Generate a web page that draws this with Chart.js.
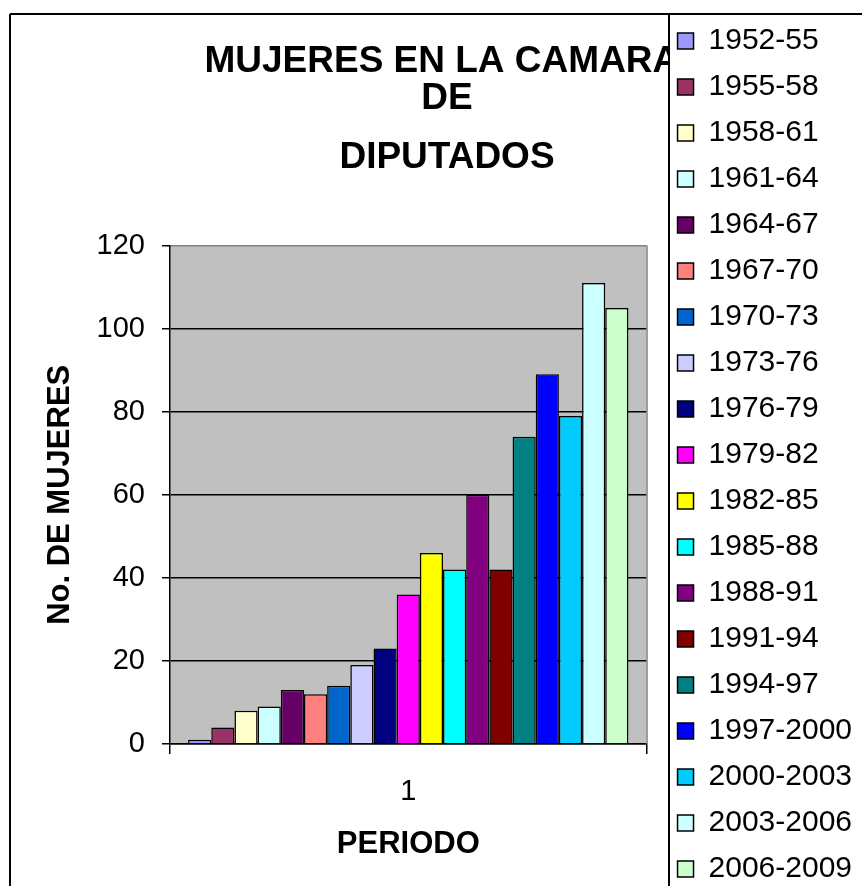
<!DOCTYPE html>
<html>
<head>
<meta charset="utf-8">
<script src="https://cdn.jsdelivr.net/npm/chart.js@4.4.1/dist/chart.umd.min.js"></script>
<style>
html,body{margin:0;padding:0;background:#fff;}
#wrap{width:862px;height:886px;position:relative;}
</style>
</head>
<body>
<div id="wrap"><canvas id="c" width="862" height="886"></canvas></div>
<script>
// ---- data ----
const categorias = ['1'];
const periodos = ['1952-55','1955-58','1958-61','1961-64','1964-67','1967-70','1970-73','1973-76','1976-79','1979-82','1982-85','1985-88','1988-91','1991-94','1994-97','1997-2000','2000-2003','2003-2006','2006-2009'];
const mujeres = [1, 4, 8, 9, 13, 12, 14, 19, 23, 36, 46, 42, 60, 42, 74, 89, 79, 111, 105];
const colores = ['#9999FF','#993366','#FFFFCC','#CCFFFF','#660066','#FF8080','#0066CC','#CCCCFF','#000080','#FF00FF','#FFFF00','#00FFFF','#800080','#800000','#008080','#0000FF','#00CCFF','#CCFFFF','#CCFFCC'];
const tituloLineas = ['MUJERES EN LA CAMARA ', 'DE'];
const subtitulo = 'DIPUTADOS';
const tituloY = 'No. DE MUJERES';
const tituloX = 'PERIODO';
const yMin = 0, yMax = 120, yPaso = 20;

const FONT = "'Liberation Sans', Arial, Helvetica, sans-serif";

const decoPlugin = {
  id: 'deco',
  beforeDraw(chart) {
    const {ctx, chartArea: a} = chart;
    ctx.save();
    ctx.fillStyle = '#C0C0C0';
    ctx.fillRect(a.left, a.top, a.right - a.left, a.bottom - a.top);
    ctx.restore();
  },
  beforeDatasetsDraw(chart) {
    const {ctx, chartArea: a} = chart;
    ctx.save();
    ctx.strokeStyle = '#808080';
    ctx.lineWidth = 1.5;
    ctx.beginPath();
    ctx.moveTo(Math.round(a.right), a.top);
    ctx.lineTo(Math.round(a.right), a.bottom);
    ctx.stroke();
    ctx.restore();
  },
  afterDraw(chart) {
    const {ctx, width, height} = chart;
    const lx = Math.round(chart.legend.left) + 7;
    ctx.save();
    ctx.fillStyle = '#fff';
    ctx.fillRect(lx, 14, width - lx, height - 14);
    ctx.strokeStyle = '#000';
    ctx.lineWidth = 2;
    ctx.beginPath();
    ctx.moveTo(10, 14); ctx.lineTo(width, 14);
    ctx.moveTo(10, 14); ctx.lineTo(10, height);
    ctx.moveTo(lx, 14); ctx.lineTo(lx, height);
    ctx.stroke();
    ctx.restore();
    chart.legend.draw();
  }
};

Chart.defaults.color = '#000';
Chart.defaults.font.family = FONT;

new Chart(document.getElementById('c'), {
  type: 'bar',
  data: {
    labels: categorias,
    datasets: periodos.map((p, i) => ({
      label: p,
      data: [mujeres[i]],
      backgroundColor: colores[i],
      borderColor: '#000',
      borderWidth: 1.5,
      yAxisID: 'y'
    }))
  },
  options: {
    responsive: false,
    animation: false,
    devicePixelRatio: 1,
    layout: { padding: { top: 10, left: 32, right: 0, bottom: -20 } },
    datasets: { bar: { categoryPercentage: 0.924, barPercentage: 1 } },
    plugins: {
      legend: {
        position: 'right',
        align: 'start',
        labels: { boxWidth: 16, boxHeight: 16, padding: 16, color: '#000', font: { family: FONT, size: 30 } }
      },
      title: {
        display: true,
        text: tituloLineas,
        color: '#000',
        font: { family: FONT, size: 37, weight: 'bold', lineHeight: 1.01 },
        padding: { top: 33, bottom: 0 }
      },
      subtitle: {
        display: true,
        text: subtitulo,
        color: '#000',
        font: { family: FONT, size: 37, weight: 'bold', lineHeight: 1.01 },
        padding: { top: 21, bottom: 69.5 }
      },
      tooltip: { enabled: false }
    },
    scales: {
      x: {
        grid: { drawOnChartArea: false, drawTicks: true, tickLength: 10, color: '#000', lineWidth: 1.5, offset: true },
        border: { color: '#000', width: 1.5 },
        ticks: { padding: 21, color: '#000', font: { family: FONT, size: 29 } },
        title: { display: true, text: tituloX, color: '#000', font: { family: FONT, size: 31, weight: 'bold' }, padding: { top: 0, bottom: 43 } },
        afterFit(s) { s.height = 162; }
      },
      y: {
        position: 'left',
        min: yMin, max: yMax,
        ticks: { stepSize: yPaso, padding: 17, color: '#000', font: { family: FONT, size: 29 } },
        grid: {
          color: (c) => (c.tick && c.tick.value === yMax) ? '#808080' : '#000',
          tickColor: '#000',
          tickLength: 8,
          lineWidth: 1.5
        },
        border: { color: '#000', width: 1.5 },
        title: { display: true, text: tituloY, color: '#000', font: { family: FONT, size: 31, weight: 'bold' }, padding: { top: 10, bottom: 0 } },
        afterFit(s) { s.width = 138; }
      },
      yR: {
        type: 'linear',
        position: 'right',
        display: false,
        afterFit(s) { s.width = 15; }
      }
    }
  },
  plugins: [decoPlugin]
});
</script>
</body>
</html>
